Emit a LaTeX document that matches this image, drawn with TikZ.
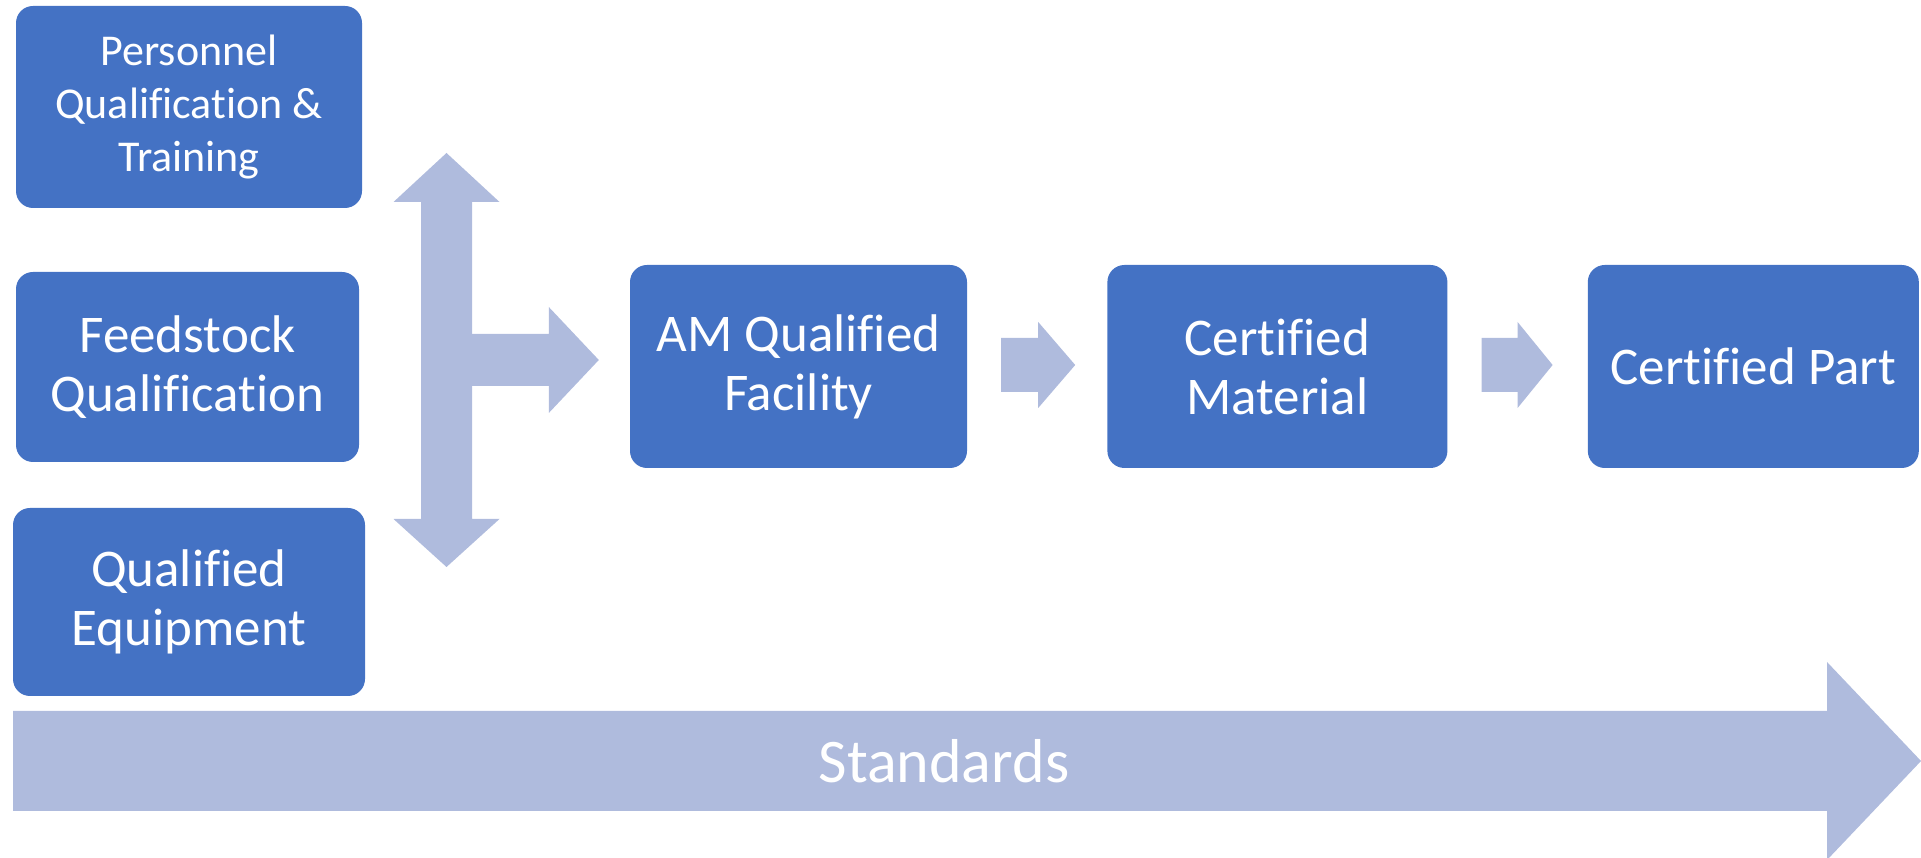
\documentclass[tikz,border=0pt]{standalone}
\usepackage{fontspec}
\setmainfont{Carlito}[Ligatures=NoCommon]
\usepackage{tikz}
\usetikzlibrary{calc}
\usetikzlibrary{positioning}

\definecolor{boxblue}{HTML}{4472C4}
\definecolor{arrowlilac}{HTML}{AFBBDD}

\tikzset{
  stage/.style={fill=boxblue, rounded corners=17pt, text=white, align=center,
    inner sep=0pt, font=\fontsize{53}{59}\selectfont},
  arrowfill/.style={fill=arrowlilac, draw=none},
}

% flat block arrow: start, tip, shaft half width, head half width, head length
\newcommand{\flowarrow}[5]{%
  \fill[arrowfill] let \p1=(#1), \p2=(#2) in
    (\x1,\y1-#3) -- (\x2-#5,\y1-#3) -- (\x2-#5,\y1-#4) -- (\x2,\y1)
    -- (\x2-#5,\y1+#4) -- (\x2-#5,\y1+#3) -- (\x1,\y1+#3) -- cycle;}

\begin{document}
\begin{tikzpicture}[x=1pt,y=1pt]
    \useasboundingbox (0,0) rectangle (1921,858);
    % Qualification Inputs
    \node[stage, minimum width=346pt, minimum height=202pt, font=\fontsize{44}{53}\selectfont] (pers) at (189,751) {Personnel\\Qualification \&\\Training};
    \node[stage, minimum width=343pt, minimum height=190pt] (feed) at (187.5,491) {Feedstock\\Qualification};
    \node[stage, minimum width=352pt, minimum height=188pt] (equip) at (189,256) {Qualified\\Equipment};
    % Certification Chain
    \node[stage, minimum width=337pt, minimum height=203pt] (amf) at (798.5,491.5) {AM Qualified\\Facility};
    \node[stage, minimum width=340pt, minimum height=203pt, right=140pt of amf] (mat) {Certified\\Material};
    \node[stage, minimum width=331pt, minimum height=203pt, right=140pt of mat] (part) {Certified Part};
    %
% Input Arrows:
 \coordinate (vtop) at (446.5,705);
 \coordinate (vbot) at (446.5,291);
 \fill[arrowfill] let \p1=(vtop), \p2=(vbot) in
   (\x1,\y1) -- (\x1+53,\y1-49) -- (\x1+25.5,\y1-49) -- (\x1+25.5,\y2+48) -- (\x1+53,\y2+48)
   -- (\x2,\y2) -- (\x1-53,\y2+48) -- (\x1-25.5,\y2+48) -- (\x1-25.5,\y1-49) -- (\x1-53,\y1-49) -- cycle;
 \coordinate (vmid) at (446.5,498);
 \coordinate (amfin) at ($(amf.west)+(-31,0)$);
 \flowarrow{vmid}{amfin}{26}{53}{50}
 % Chain Arrows:
 \coordinate (a1s) at ($(amf.east)+(34,1.5)$);
 \coordinate (a1e) at ($(mat.west)+(-32,1.5)$);
 \flowarrow{a1s}{a1e}{27}{43}{37}
 \coordinate (a2s) at ($(mat.east)+(34,1.5)$);
 \coordinate (a2e) at ($(part.west)+(-35,1.5)$);
 \flowarrow{a2s}{a2e}{27}{43}{35}
 % Standards
 \coordinate (stdtail) at (13,97);
 \coordinate (stdtip) at (1921,97);
 \flowarrow{stdtail}{stdtip}{50}{99}{94}
 \node[text=white, font=\fontsize{62}{74}\selectfont] (std) at (944,97) {Standards};
\end{tikzpicture}
\end{document}
